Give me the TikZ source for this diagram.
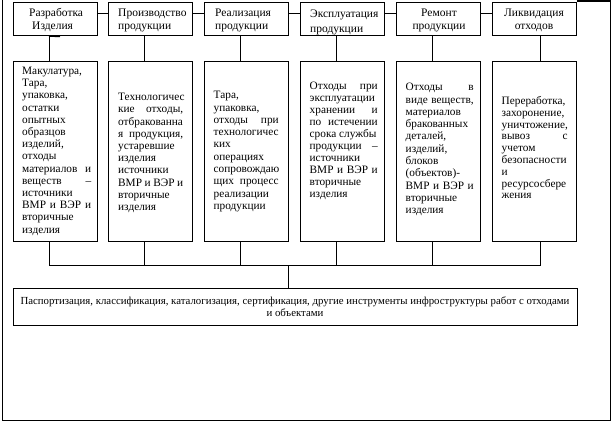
\documentclass[tikz,border=0pt]{standalone}
\usepackage{fontspec}
\setmainfont{Liberation Serif}
\newcommand\jl[1]{\makebox[\linewidth][s]{#1}}
\newcommand\nl[1]{\mbox{#1}}
\newcommand\txt[3]{\parbox[t]{#1pt}{\fontsize{11.3}{#2}\selectfont\raggedright #3}}
\begin{document}
\begin{tikzpicture}[x=1pt,y=-1pt,
  box/.style={draw, line width=1pt, inner sep=0pt},
  topbox/.style={box, minimum width=84pt, minimum height=33pt},
  lowbox/.style={box, minimum width=84pt, minimum height=180pt},
  conn/.style={line width=1pt},
  frame/.style={line width=1.5pt},
  lbl/.style={inner sep=0pt, anchor=base west},
  lblc/.style={inner sep=0pt, anchor=base}]
\useasboundingbox (0,0) rectangle (613,422);
% top boxes
\node[topbox] (t1) at (55,19) {};
\node[topbox] (t2) at (150.5,19) {};
\node[topbox] (t3) at (246,19) {};
\node[topbox] (t4) at (342,19) {};
\node[topbox] (t5) at (438.5,19) {};
\node[topbox] (t6) at (534.25,19) {};
% lower boxes
\node[lowbox] (b1) at (55,151.5) {};
\node[lowbox] (b2) at (150.5,151.5) {};
\node[lowbox] (b3) at (246,151.5) {};
\node[lowbox] (b4) at (342,151.5) {};
\node[lowbox] (b5) at (438.5,151.5) {};
\node[lowbox] (b6) at (534.25,151.5) {};
% bottom box
\node[box, minimum width=564pt, minimum height=37.5pt] (bot) at (295,307) {};
% helper coordinates
\coordinate (h) at (0,14);
\coordinate (bus) at (0,265.5);
\coordinate (c1) at (49,0);
\coordinate (c2) at (144.5,0);
\coordinate (c3) at (240,0);
\coordinate (c4) at (336,0);
\coordinate (c5) at (432.5,0);
\coordinate (c6) at (540.5,0);
\coordinate (c0) at (288,0);
% connectors between top boxes
\draw[conn] (t1.east |- h) -- (t2.west |- h);
\draw[conn] (t2.east |- h) -- (t3.west |- h);
\draw[conn] (t3.east |- h) -- (t4.west |- h);
\draw[conn] (t4.east |- h) -- (t5.west |- h);
\draw[conn] (t5.east |- h) -- (t6.west |- h);
% verticals
\foreach \i in {1,...,6} {
  \draw[conn] (t\i.south -| c\i) -- (b\i.north -| c\i);
  \draw[conn] (b\i.south -| c\i) -- (bus -| c\i);
}
\draw[conn] (bus -| c1) -- (bus -| c6);
\draw[conn] (bus -| c0) -- (bot.north -| c0);
% small tick under first box
\draw[line width=1.5pt] (t1.south -| c1) -- ++(11,0.5);
% frame
\draw[frame] (t6.north east |- 0,1) -- (610.5,1) -- (610.5,420.5) -- (2.5,420.5) -- (2.5,0);
% top texts
\node[lbl] (n1) at (29,16.5) {\parbox[t]{70pt}{\fontsize{11.5}{13}\selectfont Разработка\\\hspace*{3pt}Изделия}};
\node[lbl] (n2) at (118,16.5) {\parbox[t]{75pt}{\fontsize{11.5}{13}\selectfont Производство\\продукции}};
\node[lbl] (n3) at (215,16.5) {\parbox[t]{75pt}{\fontsize{11.5}{13}\selectfont Реализация\\продукции}};
\node[lbl] (n4) at (310,18) {\parbox[t]{75pt}{\fontsize{11.5}{15}\selectfont Эксплуатация\\продукции}};
\node[lblc] (n5) at (439,16.5) {\parbox[t]{80pt}{\centering\fontsize{11.5}{13}\selectfont Ремонт\\продукции}};
\node[lblc] (n6) at (534,16.5) {\parbox[t]{80pt}{\centering\fontsize{11.5}{13}\selectfont Ликвидация\\отходов}};
% lower texts
\node[lbl] (l1) at (22,74.5) {\txt{69}{12.2}{Макулатура,\\Тара,\\упаковка,\\остатки\\опытных\\образцов\\изделий,\\отходы\\\jl{материалов и}\\\jl{веществ –}\\источники\\\jl{ВМР и ВЭР и}\\вторичные\\изделия}};
\node[lbl] (l2) at (118,100.8) {\txt{65}{12.2}{Технологичес\\\jl{кие отходы,}\\отбракованна\\\jl{я продукция,}\\устаревшие\\изделия\\источники\\\jl{ВМР и ВЭР и}\\вторичные\\изделия}};
\node[lbl] (l3) at (213.5,98.8) {\txt{65}{12.3}{Тара,\\упаковка,\\\jl{отходы при}\\технологичес\\ких\\операциях\\сопровождаю\\\jl{щих процесс}\\реализации\\продукции}};
\node[lbl] (l4) at (309.5,89.8) {\txt{68}{12}{\jl{Отходы при}\\эксплуатации\\\jl{хранении и}\\\jl{по истечении}\\\nl{срока службы}\\\jl{продукции –}\\источники\\\jl{ВМР и ВЭР и}\\вторичные\\изделия}};
\node[lbl] (l5) at (405.5,90.8) {\txt{68}{12.3}{\jl{Отходы в}\\\jl{виде веществ,}\\материалов\\бракованных\\деталей,\\изделий,\\блоков\\(объектов)-\\\jl{ВМР и ВЭР и}\\вторичные\\изделия}};
\node[lbl] (l6) at (501.5,104.5) {\txt{66}{11.8}{Переработка,\\захоронение,\\уничтожение,\\\jl{вывоз с}\\учетом\\безопасности\\и\\ресурсосбере\\жения}};
% bottom text
\node[lblc] (bt) at (295,304) {\parbox[t]{560pt}{\centering\fontsize{10.8}{12}\selectfont Паспортизация, классификация, каталогизация, сертификация, другие инструменты инфроструктуры работ с отходами\\и объектами}};
\end{tikzpicture}
\end{document}
